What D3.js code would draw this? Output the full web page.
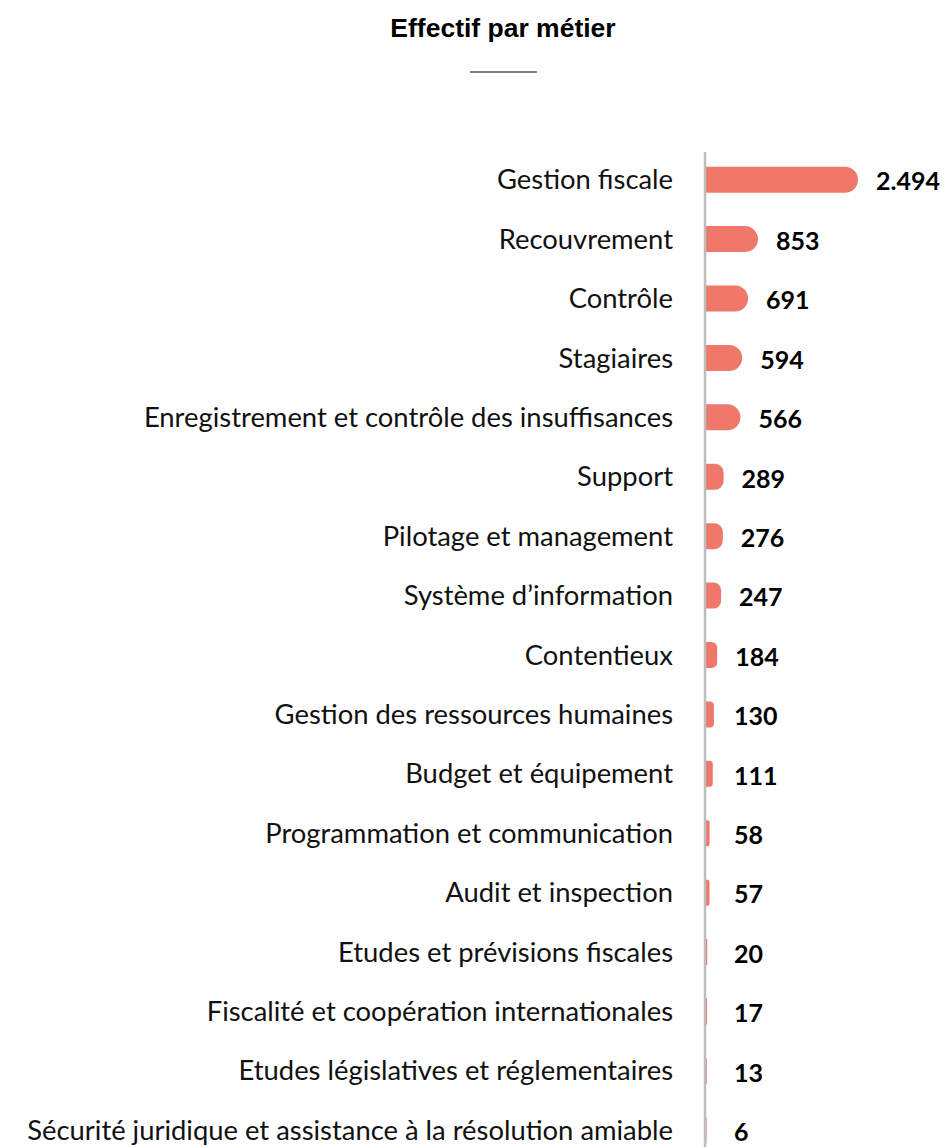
<!DOCTYPE html>
<html lang="fr">
    <head>
        <meta charset="utf-8">
        <title>Effectif par métier</title>
        <style type="text/css">
            body { margin: 0; background: #fff; }
            .title { font-family: "Liberation Sans", Arial, sans-serif; font-size: 26.5px; font-weight: bold; }
            .cat { font-family: Lato, "Open Sans", sans-serif; font-size: 27.4px; fill: #111; }
            .val { font-family: Lato, "Open Sans", sans-serif; font-size: 25px; font-weight: bold; fill: #000; }
        </style>
        <script type="text/javascript" src="https://cdn.jsdelivr.net/npm/d3@7"></script>
    </head>
    <body>
        <script type="text/javascript">

var w = 949;
var h = 1147;

// data
var categories = [
  'Gestion fiscale',
  'Recouvrement',
  'Contrôle',
  'Stagiaires',
  'Enregistrement et contrôle des insuffisances',
  'Support',
  'Pilotage et management',
  'Système d’information',
  'Contentieux',
  'Gestion des ressources humaines',
  'Budget et équipement',
  'Programmation et communication',
  'Audit et inspection',
  'Etudes et prévisions fiscales',
  'Fiscalité et coopération internationales',
  'Etudes législatives et réglementaires',
  'Sécurité juridique et assistance à la résolution amiable'
];
var values = [2494, 853, 691, 594, 566, 289, 276, 247, 184, 130, 111, 58, 57, 20, 17, 13, 6];
var valueLabels = ['2.494', '853', '691', '594', '566', '289', '276', '247', '184', '130', '111', '58', '57', '20', '17', '13', '6'];

var x0 = 706;
var barH = 26;

var svg = d3.select("body")
    .append("svg")
    .attr("width", w)
    .attr("height", h);

// title + little rule under it
svg.append('text')
  .attr('class', 'title')
  .attr('x', 503)
  .attr('y', 37)
  .attr('text-anchor', 'middle')
  .text('Effectif par métier');

svg.append('line')
  .attr('x1', 470).attr('x2', 537)
  .attr('y1', 72).attr('y2', 72)
  .attr('stroke', '#555')
  .attr('stroke-width', 1.5);

var xScale = d3.scaleLinear()
  .domain([0, 2494])
  .range([x0, 858]);

var yScale = d3.scaleBand()
  .domain(categories)
  .range([150, 1160]);

var data = categories.map(function(c, i) {
  return {cat: c, v: values[i], lab: valueLabels[i]};
});

// square on the left, rounded corners on the right
var barPath = function(d) {
  var y = yScale(d.cat) + yScale.bandwidth() / 2 - barH / 2;
  var bw = Math.max(xScale(d.v) - x0, 0.5);
  var r = Math.min(barH / 2, bw / 2);
  return 'M' + x0 + ',' + y +
    'H' + (x0 + bw - r) +
    'A' + r + ',' + r + ' 0 0 1 ' + (x0 + bw) + ',' + (y + r) +
    'V' + (y + barH - r) +
    'A' + r + ',' + r + ' 0 0 1 ' + (x0 + bw - r) + ',' + (y + barH) +
    'H' + x0 + 'Z';
};

svg.selectAll('path.bar')
  .data(data)
  .enter()
  .append('path')
  .attr('class', 'bar')
  .attr('d', barPath)
  .attr('fill', '#F0786B');

// axis line
svg.append('line')
  .attr('x1', 705).attr('x2', 705)
  .attr('y1', 152).attr('y2', h)
  .attr('stroke', '#bdbdbd')
  .attr('stroke-width', 2.5);

svg.selectAll('text.cat')
  .data(data)
  .enter()
  .append('text')
  .attr('class', 'cat')
  .attr('x', 673)
  .attr('y', function(d) { return yScale(d.cat) + yScale.bandwidth() / 2; })
  .attr('dy', '0.35em')
  .attr('text-anchor', 'end')
  .text(function(d) { return d.cat; });

svg.selectAll('text.val')
  .data(data)
  .enter()
  .append('text')
  .attr('class', 'val')
  .attr('x', function(d) { return Math.max(xScale(d.v) + 18, 734); })
  .attr('y', function(d) { return yScale(d.cat) + yScale.bandwidth() / 2 + 2; })
  .attr('dy', '0.35em')
  .text(function(d) { return d.lab; });

        </script>
    </body>
</html>
